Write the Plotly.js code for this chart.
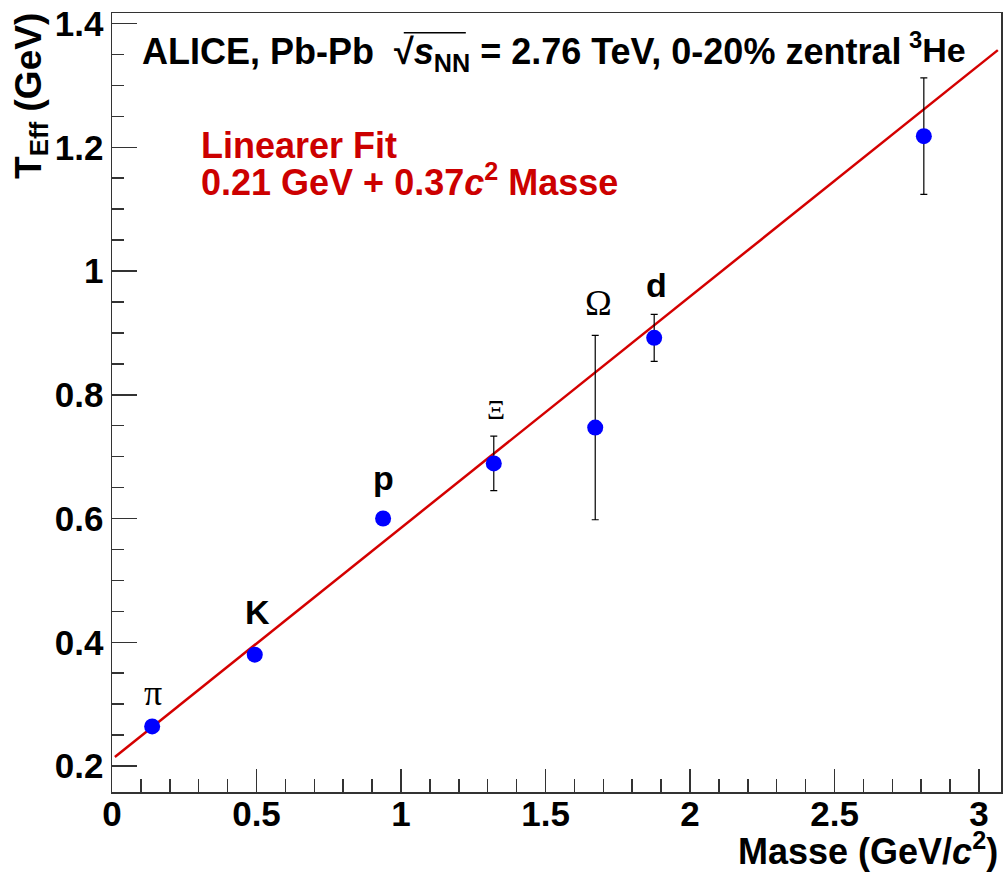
<!DOCTYPE html>
<html>
<head>
<meta charset="utf-8">
<script src="https://cdn.plot.ly/plotly-3.0.1.min.js"></script>
<style>html,body{margin:0;padding:0;background:#fff;}#chart{width:1005px;height:872px;}</style>
</head>
<body>
<div id="chart"></div>
<script>
// Particle data (mass in GeV/c^2, T_eff in GeV)
const particles = ['π', 'K', 'p', 'Ξ', 'Ω', 'd', '<sup>3</sup>He'];
const masses = [0.139, 0.494, 0.938, 1.321, 1.672, 1.876, 2.809];
const teff = [0.264, 0.380, 0.600, 0.689, 0.747, 0.892, 1.218];
const teffErr = [0, 0, 0, 0.044, 0.149, 0.038, 0.094];
// label positions (data coords)
const labelX = [0.142, 0.504, 0.939, 1.329, 1.683, 1.883, 2.855];
const labelY = [0.318, 0.449, 0.666, 0.776, 0.949, 0.977, 1.362];
const labelSerif = [true, false, false, true, true, false, false];
const labelSize = [36, 34, 34, 28, 36, 34, 34];
// linear fit endpoints
const fitX = [0.01, 3.065];
const fitY = [0.2147, 1.357];
const fitLabel = ['Linearer Fit', '0.21 GeV + 0.37<i>c</i><sup>2</sup> Masse'];
const xTicks = [0, 0.5, 1, 1.5, 2, 2.5, 3];
const xTickText = ['0', '0.5', '1', '1.5', '2', '2.5', '3'];
const yTicks = [0.2, 0.4, 0.6, 0.8, 1.0, 1.2, 1.4];
const yTickText = ['0.2', '0.4', '0.6', '0.8', '1', '1.2', '1.4'];

const sans = 'Liberation Sans, Arial, sans-serif';
const serif = 'Liberation Serif, Times New Roman, serif';

const traces = [
  {
    x: fitX, y: fitY, mode: 'lines', type: 'scatter',
    line: {color: '#d40000', width: 2.5}, hoverinfo: 'skip', showlegend: false
  },
  {
    x: masses, y: teff, mode: 'markers', type: 'scatter',
    marker: {color: '#0000ff', size: 16},
    error_y: {type: 'data', array: teffErr, visible: true, color: '#000', thickness: 1.2, width: 3.5},
    showlegend: false
  }
];

const annotations = [];
particles.forEach((p, i) => {
  annotations.push({
    x: labelX[i], y: labelY[i], xref: 'x', yref: 'y', text: p, showarrow: false,
    xanchor: 'center', yanchor: 'middle',
    font: labelSerif[i] ? {family: serif, size: labelSize[i], color: '#000'} : {family: sans, size: labelSize[i], color: '#000', weight: 'bold'}
  });
});
annotations.push({
  xref: 'paper', yref: 'paper', x: 0.031, y: 0.948, xanchor: 'left', yanchor: 'middle', showarrow: false,
  text: 'ALICE, Pb-Pb  √<i>s</i><sub>NN</sub> = 2.76 TeV, 0-20% zentral',
  font: {family: sans, size: 36, color: '#000', weight: 'bold'}
});
annotations.push({
  xref: 'paper', yref: 'paper', x: 0.098, y: 0.830, xanchor: 'left', yanchor: 'middle', showarrow: false,
  text: fitLabel[0], font: {family: sans, size: 36, color: '#cc0000', weight: 'bold'}
});
annotations.push({
  xref: 'paper', yref: 'paper', x: 0.098, y: 0.786, xanchor: 'left', yanchor: 'middle', showarrow: false,
  text: fitLabel[1], font: {family: sans, size: 36, color: '#cc0000', weight: 'bold'}
});
// axis titles
annotations.push({
  xref: 'paper', yref: 'paper', x: 0.999, y: -0.073, xanchor: 'right', yanchor: 'middle', showarrow: false,
  text: 'Masse (GeV/<i>c</i><sup>2</sup>)', font: {family: sans, size: 36, color: '#000', weight: 'bold'}
});
annotations.push({
  xref: 'paper', yref: 'paper', x: -0.092, y: 1.003, xanchor: 'center', yanchor: 'top', showarrow: false, textangle: -90,
  text: 'T<sub>Eff</sub> (GeV)', font: {family: sans, size: 37, color: '#000', weight: 'bold'}
});

const axisCommon = {
  showgrid: false, zeroline: false, showline: true, linecolor: '#333', linewidth: 1.5, mirror: true,
  ticks: 'inside', tickcolor: '#333', tickwidth: 1.5,
  tickfont: {family: sans, size: 35, color: '#000', weight: 'bold'}, tickmode: 'array'
};

const layout = {
  width: 1005, height: 872,
  margin: {l: 112, r: 4, t: 13, b: 80},
  paper_bgcolor: '#fff', plot_bgcolor: '#fff',
  xaxis: Object.assign({}, axisCommon, {
    range: [0, 3.076], tickvals: xTicks, ticktext: xTickText, ticklen: 23, ticklabelstandoff: -10,
    minor: {ticks: 'inside', dtick: 0.1, tick0: 0, ticklen: 13, tickcolor: '#333', tickwidth: 1.5}
  }),
  yaxis: Object.assign({}, axisCommon, {
    range: [0.158, 1.417], tickvals: yTicks, ticktext: yTickText, ticklen: 25,
    minor: {ticks: 'inside', dtick: 0.05, tick0: 0, ticklen: 12, tickcolor: '#333', tickwidth: 1.5}
  }),
  annotations: annotations,
  shapes: [
    // radical bar over s_NN
    {type: 'line', xref: 'paper', yref: 'paper', x0: 0.3282, x1: 0.398, y0: 0.9748, y1: 0.9748,
     line: {color: '#000', width: 1.5}}
  ],
  showlegend: false
};

Plotly.newPlot('chart', traces, layout, {displayModeBar: false, staticPlot: true});
</script>
</body>
</html>
